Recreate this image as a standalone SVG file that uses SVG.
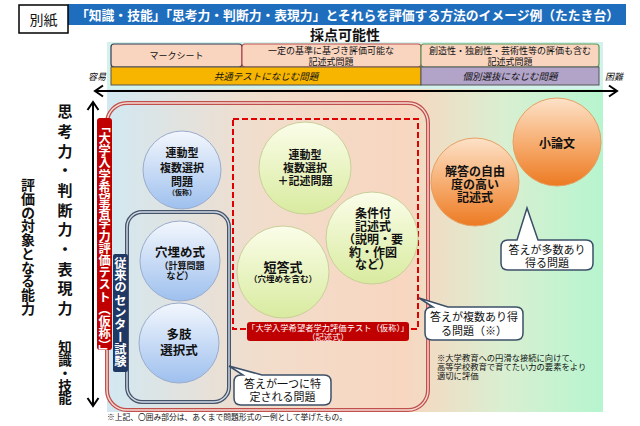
<svg xmlns="http://www.w3.org/2000/svg" width="640" height="426" viewBox="0 0 640 426">
<defs>
<style>
text{font-family:"Noto Sans CJK JP","Noto Sans",sans-serif;fill:#111}
.b{font-weight:700}
.ct{text-anchor:middle}
.w{fill:#fff}
.vr{writing-mode:vertical-rl}
.blue{fill:url(#gBlue);stroke:#9aaccc;stroke-width:1}
.green{fill:url(#gGreen);stroke:#c9cf98;stroke-width:1}
.orange{fill:url(#gOrange);stroke:#e5a064;stroke-width:1}
.bub{fill:#fff;stroke:#3b5068;stroke-width:1.5}
.ax{stroke:#000;stroke-width:2;fill:none}
</style>
<linearGradient id="gBg" x1="0" y1="0" x2="1" y2="0">
<stop offset="0" stop-color="#d2e8f2"/>
<stop offset="0.3" stop-color="#f1ddcc"/>
<stop offset="0.6" stop-color="#f8d6c0"/>
<stop offset="0.8" stop-color="#d9efd1"/>
<stop offset="1" stop-color="#b6f5cf"/>
</linearGradient>
<linearGradient id="gBlue" x1="0" y1="0" x2="0" y2="1">
<stop offset="0" stop-color="#f3f7fd"/>
<stop offset="1" stop-color="#9ec0ee"/>
</linearGradient>
<linearGradient id="gGreen" x1="0" y1="0" x2="0" y2="1">
<stop offset="0" stop-color="#fbfde9"/>
<stop offset="1" stop-color="#d8eb9f"/>
</linearGradient>
<linearGradient id="gOrange" x1="0" y1="0" x2="0" y2="1">
<stop offset="0" stop-color="#fde2c8"/>
<stop offset="0.55" stop-color="#f6a96a"/>
<stop offset="1" stop-color="#ec7a22"/>
</linearGradient>
<marker id="ah" viewBox="-10 -7 12 14" refX="0" refY="0" markerWidth="12" markerHeight="14" markerUnits="userSpaceOnUse" orient="auto-start-reverse">
<path d="M-8,-5.5 L0,0 L-8,5.5" fill="none" stroke="#000" stroke-width="2"/>
</marker>
</defs>
<rect width="640" height="426" fill="#fff"/>

<g id="header">
<rect x="68" y="4" width="558" height="21" fill="#1f6ebd"/>
<rect x="19" y="5" width="49" height="28" fill="#fff" stroke="#000" stroke-width="1.5"/>
<text x="43.5" y="25" class="ct" font-size="14">別紙</text>
<text x="76" y="19.5" class="w b" font-size="13" textLength="543" lengthAdjust="spacingAndGlyphs">「知識・技能」「思考力・判断力・表現力」とそれらを評価する方法のイメージ例（たたき台）</text>
<text x="345" y="40" class="ct b" font-size="14">採点可能性</text>
</g>

<g id="background">
<rect x="107" y="42" width="496" height="47" fill="#d4f2ec"/>
<rect x="107" y="89" width="496" height="323" fill="url(#gBg)"/>
</g>

<g id="scale">
<g id="box-marksheet">
<rect x="111" y="44" width="131" height="23" rx="3" fill="#f9d5c0" stroke="#2e3b55" stroke-width="1.2"/>
<text x="176.5" y="59" class="ct" font-size="9">マークシート</text>
</g>
<g id="box-kijun">
<rect x="242" y="44" width="179" height="23" rx="3" fill="#f9d5c0" stroke="#c0504d" stroke-width="1.2"/>
<text x="331" y="54" class="ct" font-size="9">一定の基準に基づき評価可能な</text>
<text x="331" y="64.5" class="ct" font-size="9">記述式問題</text>
</g>
<g id="box-souzou">
<rect x="421" y="44" width="178" height="23" rx="3" fill="#f9d5c0" stroke="#5b9a5b" stroke-width="1.2"/>
<text x="510" y="54" class="ct" font-size="9">創造性・独創性・芸術性等の評価も含む</text>
<text x="510" y="64.5" class="ct" font-size="9">記述式問題</text>
</g>
<g id="bar-kyoutsu">
<rect x="111" y="67" width="310" height="18" fill="#f7b500" stroke="#555" stroke-width="1"/>
<text x="266" y="80" class="ct" font-size="9.5" font-style="italic">共通テストになじむ問題</text>
</g>
<g id="bar-kobetsu">
<rect x="421" y="67" width="178" height="18" fill="#b2a3c8" stroke="#555" stroke-width="1"/>
<text x="510" y="80" class="ct" font-size="9.5" font-style="italic">個別選抜になじむ問題</text>
</g>
<text x="97" y="80" class="ct" font-size="9" font-style="italic">容易</text>
<text x="614" y="80" class="ct" font-size="9" font-style="italic">困難</text>
</g>

<g id="connectors">
<line x1="95" y1="91" x2="617" y2="91" class="ax" marker-start="url(#ah)" marker-end="url(#ah)"/>
<line x1="93" y1="102" x2="93" y2="406" class="ax" marker-start="url(#ah)" marker-end="url(#ah)"/>
</g>

<g id="axis-labels">
<text x="65" y="104" class="b vr" font-size="15" letter-spacing="4.7">思考力・判断力・表現力</text>
<text x="65" y="340" class="b vr" font-size="13.5" letter-spacing="-0.6">知識・技能</text>
<text x="28" y="178" class="b vr" font-size="14" letter-spacing="-0.3">評価の対象となる能力</text>
</g>

<g id="group-hyouka">
<rect x="107" y="103" width="321" height="307" rx="20" fill="none" stroke="#c0504d" stroke-width="4"/>
<rect x="107" y="103" width="321" height="307" rx="20" fill="none" stroke="#f6dcd4" stroke-width="1.4"/>
<rect x="97" y="118" width="15" height="232" rx="3" fill="#c00000"/>
<text x="104.5" y="120" class="w b vr" font-size="12.2">「大学入学希望者学力評価テスト（仮称）」</text>
</g>

<g id="group-center">
<rect x="127" y="212" width="102" height="190" rx="15" fill="none" stroke="#44546a" stroke-width="4"/>
<rect x="127" y="212" width="102" height="190" rx="15" fill="none" stroke="#d3dae6" stroke-width="1.4"/>
<rect x="113" y="254" width="15" height="118" rx="2" fill="#1f3864"/>
<text x="120.5" y="257" class="w b vr" font-size="12.3">従来のセンター試験</text>
</g>

<g id="group-kijutsu">
<rect x="233" y="119" width="185" height="210" fill="none" stroke="#e00000" stroke-width="2" stroke-dasharray="6 3"/>
<rect x="247" y="322" width="162" height="19" rx="3" fill="#c00000"/>
<text x="328" y="330.5" class="ct w" font-size="8.3">「大学入学希望者学力評価テスト（仮称）」</text>
<text x="328" y="340" class="ct w" font-size="8.3">（記述式）</text>
</g>

<g id="node-rendou">
<circle cx="182" cy="170" r="39" class="blue"/>
<text x="182" y="157" class="ct b" font-size="11">連動型</text>
<text x="182" y="172" class="ct b" font-size="11">複数選択</text>
<text x="182" y="186" class="ct b" font-size="11">問題</text>
<text x="182" y="195" class="ct b" font-size="7">（仮称）</text>
</g>

<g id="node-anaume">
<circle cx="180" cy="261" r="40" class="blue"/>
<text x="180" y="257" class="ct b" font-size="12.5">穴埋め式</text>
<text x="182" y="269" class="ct b" font-size="9">（計算問題</text>
<text x="180" y="279" class="ct b" font-size="9">など）</text>
</g>

<g id="node-tashi">
<circle cx="179" cy="343" r="40" class="blue"/>
<text x="179" y="339" class="ct b" font-size="12.5">多肢</text>
<text x="179" y="355" class="ct b" font-size="12.5">選択式</text>
</g>

<g id="node-rendou-kijutsu">
<circle cx="305" cy="168" r="46" class="green"/>
<text x="305" y="159" class="ct b" font-size="11">連動型</text>
<text x="305" y="172" class="ct b" font-size="11">複数選択</text>
<text x="305" y="185" class="ct b" font-size="11">＋記述問題</text>
</g>

<g id="node-jouken">
<circle cx="372" cy="238" r="46" class="green"/>
<text x="373" y="218" class="ct b" font-size="12">条件付</text>
<text x="373" y="231" class="ct b" font-size="12">記述式</text>
<text x="373" y="244" class="ct b" font-size="12">（説明・要</text>
<text x="373" y="257" class="ct b" font-size="12">約・作図</text>
<text x="373" y="269" class="ct b" font-size="12">など）</text>
</g>

<g id="node-tantou">
<circle cx="283" cy="272" r="46" class="green"/>
<text x="283" y="272" class="ct b" font-size="13">短答式</text>
<text x="283" y="282" class="ct b" font-size="8.5">（穴埋めを含む）</text>
</g>

<g id="node-jiyuu">
<circle cx="475" cy="182" r="44" class="orange"/>
<text x="475" y="176" class="ct b" font-size="12">解答の自由</text>
<text x="475" y="189" class="ct b" font-size="12">度の高い</text>
<text x="475" y="202" class="ct b" font-size="12">記述式</text>
</g>

<g id="node-shouronbun">
<circle cx="557" cy="142" r="44" class="orange"/>
<text x="557" y="148" class="ct b" font-size="12">小論文</text>
</g>

<g id="callout-hitotsu">
<path d="M234,382 Q234,375 241,375 L243,375 L229,366 L262,375 L324,375 Q331,375 331,382 L331,398 Q331,405 324,405 L241,405 Q234,405 234,398 Z" class="bub"/>
<text x="282.5" y="388" class="ct" font-size="11">答えが一つに特</text>
<text x="282.5" y="401" class="ct" font-size="11">定される問題</text>
</g>

<g id="callout-fukusuu">
<path d="M425,314 Q425,307 432,307 L433,307 L419,298 L448,307 L516,307 Q523,307 523,314 L523,333 Q523,340 516,340 L432,340 Q425,340 425,333 Z" class="bub"/>
<text x="474" y="321" class="ct" font-size="11">答えが複数あり得</text>
<text x="474" y="335" class="ct" font-size="11">る問題（※）</text>
</g>

<g id="callout-tasuu">
<path d="M501,247 Q501,240 508,240 L517,240 L527,208 L538,240 L586,240 Q593,240 593,247 L593,263 Q593,270 586,270 L508,270 Q501,270 501,263 Z" class="bub"/>
<text x="547" y="254" class="ct" font-size="11">答えが多数あり</text>
<text x="547" y="267" class="ct" font-size="11">得る問題</text>
</g>

<g id="notes">
<text x="437" y="361" font-size="8.3" fill="#333">※大学教育への円滑な接続に向けて、</text>
<text x="437" y="370" font-size="8.3" fill="#333">高等学校教育で育てたい力の要素をより</text>
<text x="437" y="379" font-size="8.3" fill="#333">適切に評価</text>
<text x="107" y="420" font-size="8" fill="#333" textLength="240" lengthAdjust="spacingAndGlyphs">※上記、〇囲み部分は、あくまで問題形式の一例として挙げたもの。</text>
</g>
</svg>
